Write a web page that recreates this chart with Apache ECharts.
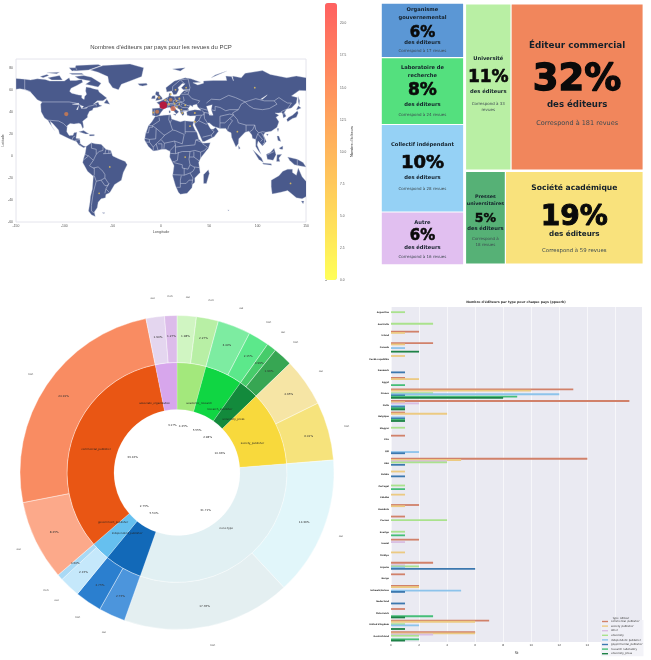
<!DOCTYPE html>
<html><head><meta charset="utf-8">
<style>html,body{margin:0;padding:0;background:#fff}#c{width:651px;height:660px}</style>
<script src="https://cdn.jsdelivr.net/npm/echarts@6/dist/echarts.min.js"></script>
</head><body><div id="c"></div>
<script>
// ---- Bubble map: base geography (lon, lat) ----
const land = [
[[-150,70.4],[-141,69.7],[-135,69],[-128,70],[-120,69.5],[-115,68],[-108,68],[-100,68],[-95,71],[-94,68.5],[-88,68.5],[-82,69.5],[-81,67],[-87,64],[-93,61.5],[-94.5,58.8],[-92.5,57],[-85,55.3],[-82,55],[-82,52.5],[-79.5,51.3],[-79,54],[-77,56],[-78,59],[-77.5,62.5],[-73,62],[-70,61],[-65,60],[-64,58],[-61,56],[-56,52.5],[-60,50],[-66,50],[-70,47],[-65,49],[-64,46.5],[-61,45.5],[-66,44],[-70,43.5],[-71,41.5],[-74,40.5],[-76,37],[-76,35],[-81,31.5],[-80,26],[-81,25],[-83,29],[-85,29.7],[-90,29],[-94,29.5],[-97,27.5],[-97.5,22],[-95,18.5],[-91,18.7],[-90,21],[-87,21.5],[-88,16],[-84,15.5],[-83.5,11],[-80,9],[-77.5,8.5],[-80,7.5],[-85,10],[-87.5,13],[-92,14.5],[-96,16],[-105,20],[-106,23.5],[-112,29.5],[-114.7,31.5],[-113,27],[-110,23],[-112,25.5],[-115,29.5],[-117,32.5],[-120.5,34.5],[-124,40],[-124.5,47],[-123,49],[-128,51],[-132,55],[-135,58],[-140,60],[-146,61],[-150,60.5]],
[[-80,73],[-72,71.5],[-62,66],[-65,62.5],[-72,64],[-78,65],[-73,68],[-85,70],[-89,72]],
[[-117,71],[-105,73],[-102,69],[-113,69]],
[[-90,77],[-88,82],[-65,83],[-62,82],[-75,78]],
[[-125,72],[-118,74],[-116,73],[-122,71]],
[[-95,75],[-82,75],[-80,74],[-92,74]],
[[-118,75.5],[-105,76],[-108,74.5]],
[[-95,80],[-88,80],[-87,78],[-92,77]],
[[-59,48],[-53,47],[-56,51.5]],
[[-73,78],[-60,82],[-32,83.5],[-18,80],[-20,72],[-32,68],[-41,65],[-44,60],[-50,62],[-54,67],[-55,72],[-65,76]],
[[-85,22],[-80,23],[-74.5,20],[-78,20]],
[[-74,19.5],[-69,19.5],[-69,18.2],[-74,18]],
[[-24,65.5],[-15,66],[-14,64.5],[-19,63.4],[-22,64]],
[[-77.5,8.5],[-72,12],[-68,11],[-62,10.5],[-57,6],[-52,5],[-50,0],[-44,-2.5],[-37,-5],[-35,-8],[-39,-15],[-41,-22],[-48,-26],[-53,-33.5],[-57,-35],[-57.5,-38],[-62,-39],[-65,-42],[-66,-47],[-69,-51],[-68,-55],[-72,-53.5],[-75,-50],[-73.5,-42],[-73,-37],[-71,-30],[-70,-18.5],[-76,-14],[-81,-6],[-80,-2],[-78.5,2],[-77.5,7]],
[[-61,-51.5],[-58,-51.5],[-59,-52.3]],
[[-6,35.8],[3,37],[10,37.3],[11,33.5],[15,32.3],[20,31],[24,32],[32,31.2],[34,31.2],[33,28],[35,24],[37.3,21],[39,15.5],[43,11.5],[51,12],[49,7],[41,-2],[39,-6],[40.5,-15],[35,-20],[35,-24],[32.5,-26],[32,-29],[27,-34],[20,-34.8],[18,-33],[15,-27],[12,-18],[13.5,-9],[9,-1],[9.5,4],[5,6],[1,6],[-4,5],[-8,4.5],[-13,8.5],[-17,14.5],[-16,20],[-13,27.5],[-9.5,31]],
[[49,-12.5],[50,-16],[47,-25],[44,-25],[44,-17]],
[[-9,37],[-9,43],[-1.5,43.5],[-1,46],[-4.5,48.5],[1.5,50.5],[4,52],[8,54],[8.5,57],[10.5,57],[10,54.5],[14,54],[19,54.5],[21,57],[24,59.5],[30,60],[23,60],[21,62],[25,65.5],[22,65.8],[17.5,62],[18.5,60],[16,56],[13,55.5],[11,59],[6,58],[5,62],[14,68],[25,71],[31,70],[41,67],[33,66.5],[38,64.5],[44,66],[44,68],[54,68.5],[68,68.5],[67,72.5],[73,72],[75,68],[74,72.5],[83,71],[87,75],[105,77.5],[113,74],[130,71],[140,72.5],[160,69.5],[170,70],[180,69],[180,65],[178,62.5],[170,60],[163,60],[162,55],[156.5,51],[156,57],[160,61],[155,59],[143,59.5],[135,54.5],[141,53],[140,48],[135,43.5],[130,42.5],[127.5,39.5],[129.5,36],[126.5,34.5],[126,37.5],[125,39.5],[121.5,39],[118,39],[122,37],[119,35],[122,31],[120,26],[114,22.3],[108,21.5],[106,19],[109,13],[105,9],[103,11],[100.5,13.5],[99.5,10],[103.5,1.5],[100.5,5],[98,8.5],[98,15],[94.5,16],[94,19],[91,22.5],[87,21.5],[80.5,15.5],[80,11],[77.5,8],[73,17],[72.5,21],[69,22.5],[67,25],[61,25],[57,26],[54,27],[50,30],[48,30],[50,26.5],[51.5,24.5],[54,24.2],[56.5,26],[59.5,22.5],[55,17.5],[45,13],[43,13],[39,21],[35,28],[34.5,31.5],[36,36.5],[30,36.2],[27,37],[26.5,40],[29,41],[35,42],[41.5,41.5],[38,44.5],[37,47],[33,46],[33,44.5],[30.5,46],[28,43],[29,41.2],[26,40.8],[23,40.5],[24,38],[22.5,36.5],[20,39.5],[19.5,42],[14,45.2],[12.5,44.5],[18.5,40],[16,38],[12,42],[9,44.2],[3.5,43.3],[0,39.5],[-2,36.8],[-5.5,36]],
[[130,33],[131,31],[136,34],[140,35],[142,39],[141,41],[140,40],[136,37],[132,35]],
[[140,42],[142,45.5],[145,43.5],[141,42]],
[[142,54],[143.5,50],[143,46],[142,49]],
[[120,25],[122,25],[121,22]],
[[109,20],[111,20],[110,18]],
[[120,18],[122,18],[124,13],[121,14]],
[[122,7],[126,9],[126,6],[124,6]],
[[109,1.5],[113,3],[117,7],[119,1],[116,-4],[110,-3]],
[[95,5.5],[104,-2],[106,-6],[101,-3]],
[[105,-6.5],[114,-7],[114.5,-8.5],[106,-7.5]],
[[119.5,-5],[120,1],[125,1.5],[122,-2],[123,-5]],
[[131,-1],[141,-3],[147,-6],[150,-10],[143,-9],[138,-8],[133,-4]],
[[80,9.5],[82,7],[80.5,6]],
[[-5.5,50],[1.5,51.5],[1,53],[-2,56],[-2,58],[-5,58.5],[-6,56],[-3,54],[-5,52]],
[[-10,52],[-6,52],[-6,55],[-9,54.5]],
[[114,-22],[122,-18],[126,-14],[131,-12],[136,-12],[136,-15],[140,-17.5],[142,-11],[146,-19],[153,-26],[153,-31],[150,-37],[146,-39],[140,-38],[136,-35],[131,-31.5],[124,-33],[115,-34.5],[114,-28]],
[[145,-41],[148,-41],[147,-43.5]],
[[12,79],[25,80],[20,77]],
[[52,71],[68,77],[56,73.5]],
[[12.5,38],[15.5,38],[15,36.7]],
[[8.2,41],[9.7,41],[9.5,39],[8.4,39]],
[[69,-49],[70.5,-49],[70,-49.7]]
];
const lakes = [
[[47,45],[53,46.5],[52,42],[54,37],[50,37],[49,40]],
[[-92,47],[-85,48],[-85,46.5],[-90,46.7]],
[[-87.5,42],[-85,46],[-86,42]],
[[-84,46],[-80,45],[-82,43]],
[[-79.5,43.5],[-76,44],[-77,43.3]],
[[103,51.5],[110,55.5],[109,54.5],[105,51.5]]
];
const borders = [
[[-123,49],[-95,49],[-88,48],[-83,46],[-82,43],[-79,43],[-75,45],[-70,46],[-67,47],[-67,45]],
[[-141,69.7],[-141,60],[-135,58.5]],[[-117,32.5],[-106,31.7],[-101,29.5],[-97,26]],
[[-92,14.5],[-91,17],[-89,18]],[[-89,14],[-83.5,15]],[[-85,11],[-83.6,11]],[[-83,8.5],[-83,9.6]],
[[-72,12],[-72,7],[-67,6],[-67,1.5],[-70,-4],[-75,0],[-79,1.5]],[[-60,8.5],[-60,5],[-64,4],[-67,1.5]],
[[-57,6],[-58,2]],[[-54,5.5],[-54,2.3]],[[-51.5,4.5],[-52,2.3]],[[-60,2],[-52,2.3]],[[-80,-3.5],[-75,0]],
[[-70,-4],[-74,-9],[-70,-11],[-69,-11],[-69,-17],[-70,-18.5]],[[-70,-11],[-65,-10],[-60,-14],[-58,-17],[-58,-20],[-62,-22],[-67,-23]],
[[-69,-18],[-67,-23],[-70,-33],[-72,-45],[-72,-50],[-69,-52]],[[-62,-22],[-58,-27],[-55,-27],[-54,-25]],[[-58,-20],[-55,-24],[-54,-25],[-57,-30],[-53,-33.5]],[[-57,-30],[-58,-34]],
[[-2,35],[-1.5,32],[-9,27.5]],[[-13,27.7],[-8.7,27.3],[-8.7,26],[-12,26],[-13,21],[-17,21]],[[-8.7,27.3],[-5,25],[3,19],[4,19],[12,23.5]],
[[8.5,37],[8,33],[9.5,30],[12,23.5]],[[11,33],[9.5,30]],[[25,31.5],[25,20]],[[24,19.5],[15,23],[12,23.5]],[[25,22],[37,22]],[[24,19.5],[22,11]],[[23,9],[35,10]],
[[35,10],[36,14.5],[39,15]],[[36,14.5],[43,12]],[[43,11],[48,8],[45,5],[41,3.5],[35,5]],[[35,5],[30,4],[22,4],[15,2],[9.5,2.3]],
[[3,6.5],[3.5,11.5],[14,13.5],[15,10],[9,4.5]],[[3.5,11.5],[0,15],[4,19]],[[-12,15],[-5.5,15.5],[-5,25]],[[-5,11],[0,15]],[[-8,8],[-5,11],[-3,5]],[[-3,11],[1,11],[1,6]],[[-12,12.5],[-8,8],[-8,4.5]],[[-17,16],[-12,15],[-12,12.5],[-16,12.5]],
[[14,13.5],[22,11]],[[15,8],[23,9]],[[15,10],[15,2]],[[12,-5],[14,-5],[17,-4],[18,3.5]],[[30,4],[29,-3],[30,-8],[28,-12],[22,-11],[22,-8],[13,-6]],[[12,-17],[24,-17.5],[24,-11]],
[[29,-1],[34,-1],[39.5,-4.5]],[[30,-8],[34,-10],[40.5,-10.7]],[[41,3.5],[41,-2]],[[34,4],[34,-1]],[[24,-17.5],[30,-15.5],[33,-14],[35,-11],[34,-10]],[[30,-15.5],[33,-20],[32,-26]],[[20,-22],[20,-28.5],[16.5,-28.5]],[[20,-22],[21,-18]],[[20,-25],[26,-25],[29,-22],[33,-22]],
[[28,70],[30,62],[28,56],[32,52],[40,50],[38,47.5]],[[40,43.5],[48,41.5]],[[47,48],[52,51.5],[61,51],[70,55],[77,53],[87,49]],[[52,42],[56,41],[56,45],[61,44],[67,41],[71,42],[80,42],[83,47],[87,49]],
[[87,49],[98,52],[107,50],[117,50],[120,47],[112,43],[105,42],[96,43],[91,45.5],[87,49]],[[117,50],[122,53],[127,50],[131,48],[135,48],[131,43]],[[124,40],[130,42.5]],[[126,38],[129,38.5]],[[80,42],[74,39],[75,37]],
[[61,36],[66,37],[71,38],[75,37],[71,34],[66,30],[61,30],[61,36]],[[44.5,39.5],[48,39],[53,37]],[[61,30],[61,25]],[[44.5,39.5],[45,34],[48,30]],[[36,36.7],[42,37],[44.5,37.5],[44.5,39.5],[42,41.5]],
[[35,29.5],[39,32],[42,37]],[[39,32],[46,29],[48,28.8]],[[43,17],[52,19],[55,22],[52,24]],[[52,19],[53,16.5]],[[71,34],[74,32],[70,27],[69,24]],[[75,37],[79,33],[80,30],[88,28],[97,28],[95,24],[92,22]],[[88,28],[88,22]],
[[97,28],[98,24],[101,21],[100,20],[98,15]],[[101,21],[105,22],[108,21.5]],[[104,21],[107,16],[107,12],[105,10.5]],[[100,20],[105,15],[103,13]],[[110,1],[117,4]],[[141,-3],[141,-9]],
[[-7,42],[-7,37]],[[-1.5,43.5],[3,42.5]],[[2.5,51],[8,49],[7.5,47.5],[7,44]],[[14,54],[15,51],[12.5,50],[13,47.7],[7.5,47.5]],[[7,53.3],[6,51],[8,49]],[[8.7,54.9],[10,54.8]],
[[12,59],[12,63],[20,69],[28,70]],[[24,66],[20,69]],[[21,56],[28,56]],[[24,57.5],[28,59]],[[23,54],[24,50],[22,49],[15,51]],[[17,48.5],[22,48.5]],[[7,46],[13,46.5],[16,47],[17,48.5]],
[[13.5,45.5],[19,46],[22,44],[28,43.8]],[[22,48],[21,46]],[[22.5,48],[28,45.5],[30,46]],[[22,41.5],[26,41],[28,42]],[[20,40],[26,41]]
];
// Publishers per country: lon, lat, count
const countryPoints = [[2.4,46],[-98,38],[-4,40],[10,51],[12.5,43],[-2,53],[4.5,50.7],[8,47],[19,52],[-8,39.5],[14,47.6],[16,49.8],[22,39],[25,46],[19,47],[15,60],[10,56],[26,62],[35,39],[35,31],[30,27],[97,62],[79,22],[134,-25],[-53,-10],[-64,-34],[25,-1],[21,42],[16.5,44.5]];
const countryCounts = [21.5,10,9,8,13,4,3,3,2,2,2,2,2,1,1,1,1,1,2,2,1,1,1,1,1,1,1,1,1];
const lonTicks = {min:-150,max:150,step:50};
const latTicks = {min:-60,max:88,step:20};

// ---- Colour bar ----
const colorBarRange = {min:0,max:21.6,step:2.5};

// ---- Treemap: share (area), label strings ----
const treeNames = {org:'Organisme\ngouvernemental',lab:'Laboratoire de\nrecherche',coll:'Collectif indépendant',autre:'Autre',univ:'Université',press:'Presses\nuniversitaires',comm:'Éditeur commercial',soc:'Société académique'};
const treeShares = {org:6.6,lab:8.1,coll:10.6,autre:6.4,univ:11.2,press:5.5,comm:32.5,soc:19};
const treePct = {org:'6%',lab:'8%',coll:'10%',autre:'6%',univ:'11%',press:'5%',comm:'32%',soc:'19%'};
const treeRevues = {org:'Correspond à 17 revues',lab:'Correspond à 24 revues',coll:'Correspond à 28 revues',autre:'Correspond à 16 revues',univ:'Correspond à 33\nrevues',press:'\u00a0\nCorrespond à\n18 revues',comm:'Correspond à 181 revues',soc:'Correspond à 59 revues'};
const treeColors = {org:'#5b97d5',lab:'#54e07e',coll:'#95d1f5',autre:'#e1bff0',univ:'#b9efa4',press:'#56b176',comm:'#f1865c',soc:'#f9e27c'};
// label styling: [title, pct, "des éditeurs", "Correspond"] font sizes
const treeFont = {org:[5.2,15,5.2,4],lab:[5.2,17,5.2,4],coll:[5.2,18,5.2,4],autre:[5.2,15,5.2,4],univ:[5.2,17,5.2,4],press:[4.8,12.5,5.2,4],comm:[8.8,37,8.6,6.5],soc:[7.6,28,7.2,5.4]};
// label layout: top of the cell and page y of each text line's centre
const treeCellTop = {org:2,lab:57,coll:124.5,autre:212,univ:2,press:171.7,comm:2,soc:171.7};
const treeLineY = {org:[8,16,31,41,49],lab:[66,74,89,103,114],coll:[144,163,177,188],autre:[222,236,247,256],univ:[56,75,89,102,108],press:[196,203,218,228,233,239,245],comm:[43,78,102,120.7],soc:[188,217,234,250]};

// ---- Sunburst ----
const innerNames = ['academic_research','research_publisher','university_press','society_publisher','none type','independent_publisher','government_publisher','commercial_publisher','associate_organization'];
const innerValues = [4.25,5.55,2.98,10.96,31.71,5.50,2.75,33.16,3.17];
const innerColors = ['#a3e87c','#10d643','#138a3c','#f8d93c','#e1f0f3','#1269b8','#66c0ef','#e95614','#d7a6ec'];
const outerNames = ['oui','non','oui','non','oui','non','oui','non','oui','non','oui','non','oui','non','oui','non','oui','non'];
const outerValues = [1.98,2.27,3.40,2.15,0.99,1.99,4.95,6.01,14.36,17.35,2.75,2.75,2.15,0.60,8.25,24.91,1.90,1.27];
const outerColors = ['#d0f5c2','#b8efa5','#7deca1','#5ce88b','#46cc6a','#37a653','#f6e5a5','#f6e37c','#e1f6fa','#e4eff1','#4c95dc','#2b7fcf','#c5e8fb','#a9d9f5','#fca98a','#f98c62','#e4d6ef','#dcbcea'];

// ---- Bars: publishers by type for each country ----
const barCountries = ['Argentina','Australia','Ísland','Canada','Česká republika','Danmark','Egypt','France','Italia','Belgique','Magyar','Éire','日本','USA','Polska','Portugal','Ελλάδα','România','Россия','Sverige','Suomi','Türkiye','España','Norge','Schweiz/Suisse','Nederland','Österreich','United Kingdom','Deutschland'];
const barCommercial = [0,0,2,3,0,0,1,13,17,1,0,1,0,14,0,0,0,2,1,0,2,0,3,1,2,0,1,7,6];
const barSociety    = [0,0,1,1,1,0,2,10,1,4,0,0,0,5,1,0,1,1,0,0,0,1,0,0,2,0,0,6,6];
const barOther      = [0,0,0,0,0,0,0,0,2,0,0,0,0,4,0,0,0,0,0,0,1,0,1,0,0,0,0,0,3];
const barUniversity = [1,3,0,0,0,0,0,3,0,0,1,0,0,4,0,1,0,0,4,1,0,0,2,0,0,0,0,1,2];
const barCollective = [0,0,0,1,0,0,0,12,1,1,0,0,2,0,0,0,0,0,0,0,0,0,1,0,5,0,0,2,0];
const barGovernment = [0,0,0,0,0,1,0,1,1,1,0,0,1,1,1,0,0,0,0,0,0,0,6,0,1,1,0,0,0];
const barResearch   = [0,0,0,0,0,0,1,9,1,1,0,0,0,0,0,1,0,0,0,1,0,0,0,0,0,0,3,0,2];
const barPress      = [0,0,0,2,0,0,0,8,1,1,0,0,0,0,0,0,0,0,0,0,0,0,0,0,0,0,1,1,1];
const barTypes = ['commercial_publisher','society_publisher','other','university','independent_publisher','governmental_publisher','research_laboratory','university_press'];
const barColors = ['#d1816a','#ecca82','#d9bee3','#aae28d','#8cc3eb','#3c78af','#46be78','#1e8246'];
const barTicks = {min:0,max:17.9,step:2};

const chart = echarts.init(document.getElementById('c'));
const sans='Liberation Sans', dj='DejaVu Sans';

// Line heights that put every label line's centre at its wanted y,
// keeping the block inside the cell (the treemap drops lines that overflow).
function solveHeights(ys,top){
  let best=null;
  for(let h0=1;h0<=60;h0+=0.5){
    if(ys[0]-h0/2<top)continue;
    const h=[h0];
    for(let i=1;i<ys.length;i++)h.push(2*(ys[i]-ys[i-1])-h[i-1]);
    if(h.some(v=>v<1))continue;
    const last=h[h.length-1];
    if(!best||last<best.last)best={h,last};
  }
  return best?best.h:ys.map(()=>8);
}
function leaf(k){
  const f=treeFont[k], ys=treeLineY[k];
  const lines=[];
  treeNames[k].split('\n').forEach(s=>lines.push([s,'t']));
  lines.push([treePct[k],'p']); lines.push(['des éditeurs','d']);
  treeRevues[k].split('\n').forEach(s=>lines.push([s,'c']));
  const h=solveHeights(ys,treeCellTop[k]), rich={};
  const base={t:{fontWeight:'bold',fontSize:f[0],color:'#14202a'},
    p:{fontWeight:'bold',fontSize:f[1],color:'#0a0a0a',textBorderColor:'#0a0a0a',textBorderWidth:f[1]*0.035},
    d:{fontWeight:'bold',fontSize:f[2],color:'#14202a'},
    c:{fontSize:f[3],color:'#3d4a50'}};
  lines.forEach((l,i)=>{rich['l'+i]=Object.assign({fontFamily:dj,lineHeight:h[i]},base[l[1]]);});
  return {name:k,value:treeShares[k],itemStyle:{color:treeColors[k]},
    label:{padding:[Math.max(0,ys[0]-h[0]/2-treeCellTop[k]),0,0,0],
      formatter:lines.map((l,i)=>'{l'+i+'|'+l[0]+'}').join('\n'),rich}};
}
const sum=a=>a.reduce((x,k)=>x+treeShares[k],0);
function group(name,keys){return {name,value:sum(keys),children:keys.map(leaf)};}
const treeData=[group('gauche',['org','lab','coll','autre']),
  {name:'droite',value:sum(['univ','comm','press','soc']),children:[group('haut',['univ','comm']),group('bas',['press','soc'])]}];

const bar=(arr,i)=>({type:'bar',name:barTypes[i],data:arr,xAxisIndex:2,yAxisIndex:2,barWidth:1.8,barGap:'-33%',itemStyle:{color:barColors[i]},silent:true});
const halfAnchor=(vals)=>{let acc=0;const tot=vals.reduce((a,b)=>a+b,0);return vals.map(v=>{const m=(acc+v/2)/tot;acc+=v;return m<0.5?1:-1;});};
const innerSide=halfAnchor(innerValues);
const ringBase={type:'pie',center:[177,472.5],startAngle:90,silent:true,avoidLabelOverlap:false,labelLine:{show:false}};
const transparent={color:'rgba(0,0,0,0)',borderWidth:0};

chart.setOption({
  animation:false,
  backgroundColor:'#fff',
  title:[
    {text:"Nombres d'éditeurs par pays pour les revues du PCP",left:161,top:44,padding:0,textAlign:'center',textStyle:{fontFamily:sans,fontWeight:'normal',fontSize:6,color:'#444'}},
    {text:"Nombre d'éditeurs par type pour chaque pays (ppuerb)",left:516,top:300.4,padding:0,textAlign:'center',textStyle:{fontFamily:dj,fontWeight:'bold',fontSize:3.2,color:'#333'}},
    {text:'type_éditeur',left:621,top:616.5,padding:0,textAlign:'center',textStyle:{fontFamily:dj,fontWeight:'normal',fontSize:2.6,color:'#333'}}
  ],
  grid:[
    {left:16,top:59,width:290,height:163,show:true,backgroundColor:'#fff',borderColor:'#e4e4ec',borderWidth:1},
    {left:325,top:3,width:12,height:277,show:false},
    {left:391,top:307,width:251,height:340,show:true,backgroundColor:'#eaeaf2',borderWidth:0}
  ],
  xAxis:[
    {gridIndex:0,type:'value',min:lonTicks.min,max:lonTicks.max,interval:lonTicks.step,splitLine:{show:false},axisLine:{show:false},axisTick:{show:false},
     axisLabel:{fontSize:3.4,color:'#555',margin:3,fontFamily:sans},name:'Longitude',nameLocation:'middle',nameGap:8,nameTextStyle:{fontSize:3.8,color:'#555',fontFamily:sans}},
    {gridIndex:1,type:'value',show:false},
    {gridIndex:2,type:'value',min:barTicks.min,max:barTicks.max,interval:barTicks.step,splitLine:{show:true,lineStyle:{color:'#fff',width:0.6}},axisLine:{show:false},axisTick:{show:false},
     axisLabel:{fontSize:2.8,color:'#444',margin:2,showMaxLabel:false,fontFamily:dj},name:'Nb',nameLocation:'middle',nameGap:6,nameTextStyle:{fontSize:2.8,color:'#444'}}
  ],
  yAxis:[
    {gridIndex:0,type:'value',min:latTicks.min,max:latTicks.max,interval:latTicks.step,splitLine:{show:false},axisLine:{show:false},axisTick:{show:false},
     axisLabel:{fontSize:3.4,color:'#555',margin:3,showMaxLabel:false,fontFamily:sans},name:'Latitude',nameLocation:'middle',nameGap:9,nameTextStyle:{fontSize:3.4,color:'#555',fontFamily:sans}},
    {gridIndex:1,type:'value',position:'right',min:colorBarRange.min,max:colorBarRange.max,interval:colorBarRange.step,splitLine:{show:false},axisLine:{show:false},
     axisTick:{show:true,length:2,lineStyle:{color:'#666',width:0.5}},axisLabel:{fontSize:3.2,color:'#555',margin:3,showMaxLabel:false,formatter:v=>v.toFixed(1),fontFamily:sans},
     name:"Nombre d'éditeurs",nameLocation:'middle',nameGap:8,nameRotate:90,nameTextStyle:{fontSize:3.8,color:'#333',fontFamily:sans}},
    {gridIndex:2,type:'category',data:barCountries,inverse:true,splitLine:{show:false},axisLine:{show:false},axisTick:{show:false},
     axisLabel:{fontSize:2.2,fontWeight:'bold',color:'#222',margin:2,interval:0,fontFamily:dj}}
  ],
  visualMap:[{type:'continuous',min:colorBarRange.min,max:colorBarRange.max,seriesIndex:1,dimension:2,left:325,top:3,itemWidth:12,itemHeight:277,padding:0,text:null,showLabel:false,calculable:false,realtime:false,
    inRange:{color:['#e8cc60','#c4854f','#d96a55','#c8102e'],symbolSize:[1.5,7.5]},
    controller:{inRange:{color:['#ffff58','#ffb15c','#ff6060'],symbolSize:[12,12]}}}],
  legend:{show:true,orient:'vertical',left:601,top:620,itemWidth:6,itemHeight:1.4,itemGap:1.6,padding:[0,1,1,1],backgroundColor:'rgba(240,240,246,0.8)',
    textStyle:{fontSize:2.6,color:'#333',fontFamily:dj,padding:[0,0,0,-2]},icon:'rect',data:barTypes},
  series:[
    {type:'custom',xAxisIndex:0,yAxisIndex:0,clip:true,silent:true,coordinateSystem:'cartesian2d',data:[[0]],
     encode:{x:0,y:0},
     renderItem:(p,api)=>{
       const pts=a=>a.map(q=>api.coord(q));
       const children=[];
       land.forEach(a=>children.push({type:'polygon',shape:{points:pts(a)},style:{fill:'#4a5a8c',stroke:'#cfd4e3',lineWidth:0.35}}));
       lakes.forEach(a=>children.push({type:'polygon',shape:{points:pts(a)},style:{fill:'#fff',stroke:'#cfd4e3',lineWidth:0.25}}));
       borders.forEach(a=>children.push({type:'polyline',shape:{points:pts(a)},style:{fill:'none',stroke:'#c9cfe2',lineWidth:0.55}}));
       return {type:'group',children,clipPath:{type:'rect',shape:{x:p.coordSys.x,y:p.coordSys.y,width:p.coordSys.width,height:p.coordSys.height}}};
     }},
    {type:'scatter',xAxisIndex:0,yAxisIndex:0,silent:true,data:countryPoints.map((c,i)=>[c[0],c[1],countryCounts[i]]),itemStyle:{opacity:0.85}},
    {type:'treemap',left:380,top:2,width:265,height:264,roam:false,nodeClick:false,breadcrumb:{show:false},sort:false,squareRatio:1,silent:true,
     visibleMin:0,data:treeData,
     label:{show:true,position:'insideTop',align:'center',overflow:'none'},
     upperLabel:{show:false},
     itemStyle:{gapWidth:0,borderWidth:0.6,borderColor:'#fff'}},
    Object.assign({},ringBase,{radius:[63,110],data:innerValues.map((v,i)=>({name:innerNames[i],value:v,itemStyle:{color:innerColors[i],borderColor:'#fff',borderWidth:0.2}})),label:{show:false}}),
    Object.assign({},ringBase,{radius:[110,157],data:outerValues.map((v,i)=>({name:outerNames[i],value:v,itemStyle:{color:outerColors[i],borderColor:'#fff',borderWidth:0.4}})),
       label:{show:true,position:'inside',fontSize:2.8,color:'#333',fontFamily:dj,formatter:d=>d.value.toFixed(2)+'%'}}),
    Object.assign({},ringBase,{radius:[34,54],data:innerValues.map((v,i)=>({name:innerNames[i],value:v,itemStyle:transparent})),
       label:{show:true,position:'inside',fontSize:2.8,color:'#333',fontFamily:dj,formatter:d=>d.value.toFixed(2)+'%'}}),
    Object.assign({},ringBase,{radius:[57,77],data:innerValues.map((v,i)=>({name:innerNames[i],value:v,itemStyle:transparent})),
       labelLayout:p=>({dx:innerSide[p.dataIndex]*p.labelRect.width/2}),
       label:{show:true,position:'inside',fontSize:2.7,color:'#222',fontFamily:dj,formatter:d=>d.name}}),
    Object.assign({},ringBase,{radius:[163,183],data:outerValues.map((v,i)=>({name:outerNames[i],value:v,itemStyle:transparent})),
       label:{show:true,position:'inside',fontSize:2.8,color:'#444',fontFamily:dj,formatter:d=>d.name}}),
    bar(barCommercial,0),bar(barSociety,1),bar(barOther,2),bar(barUniversity,3),bar(barCollective,4),bar(barGovernment,5),bar(barResearch,6),bar(barPress,7)
  ]
});
</script></body></html>
